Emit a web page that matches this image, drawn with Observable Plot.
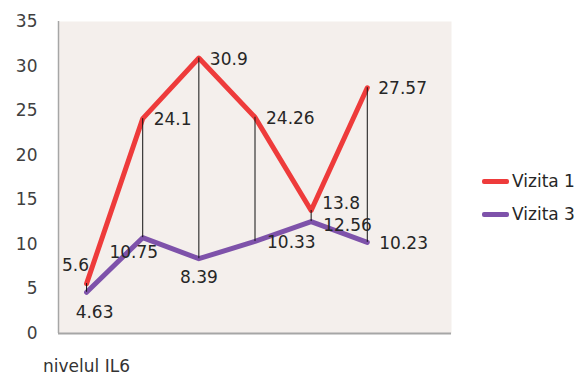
<!DOCTYPE html>
<html>
<head>
<meta charset="utf-8">
<script src="https://cdn.jsdelivr.net/npm/d3@7"></script>
<script src="https://cdn.jsdelivr.net/npm/@observablehq/plot@0.6"></script>
<style>
  html, body { margin: 0; padding: 0; background: #fff; overflow: hidden; }
  #wrap { position: relative; width: 583px; height: 376px; font-family: "DejaVu Sans", sans-serif; }
  #xlabel { position: absolute; left: 43px; top: 358px; font-size: 17px; color: #333; line-height: 17px; white-space: nowrap; }
  #legend { position: absolute; left: 482px; top: 169px; font-size: 17px; color: #262626; }
  .row { display: flex; align-items: center; height: 24px; margin-bottom: 9px; white-space: nowrap; }
  .sw { width: 27px; height: 5px; border-radius: 2px; margin-right: 3px; }
</style>
</head>
<body>
<div id="wrap">
  <div id="chart"></div>
  <div id="xlabel"></div>
  <div id="legend"></div>
</div>
<script>
const categories = [1, 2, 3, 4, 5, 6];
const vizita1 = [5.6, 24.1, 30.9, 24.26, 13.8, 27.57];
const vizita3 = [4.63, 10.75, 8.39, 10.33, 12.56, 10.23];
const yTicks = [0, 5, 10, 15, 20, 25, 30, 35];
const seriesNames = ["Vizita 1", "Vizita 3"];
const xAxisTitle = "nivelul IL6";
const colors = ["#ee3b3b", "#7e52aa"];

const rows1 = categories.map((c, i) => ({x: c, y: vizita1[i], i, label: String(vizita1[i])}));
const rows3 = categories.map((c, i) => ({x: c, y: vizita3[i], i, label: String(vizita3[i])}));
const hl = categories.map((c, i) => ({x: c, lo: vizita3[i], hi: vizita1[i]}));

const font = {fontSize: 17, fill: "#262626", fontFamily: "DejaVu Sans, sans-serif"};
const lbl = (rows, filter, opts) => Plot.text(rows, {x: "x", y: "y", text: "label", filter, ...font, ...opts});

const chart = Plot.plot({
  width: 583,
  height: 376,
  marginLeft: 58,
  marginRight: 132,
  marginTop: 21,
  marginBottom: 43,
  style: {fontFamily: "DejaVu Sans, sans-serif", fontSize: "17px", background: "transparent"},
  x: {domain: [0.5, 7.5], axis: null},
  y: {domain: [0, 35], ticks: yTicks, tickSize: 0, tickPadding: 21, label: null, tickFormat: d => String(d)},
  marks: [
    Plot.frame({fill: "#f4efec", stroke: null}),
    Plot.axisY({ticks: yTicks, tickSize: 0, tickPadding: 21, label: null, fontSize: 17, color: "#404040", tickFormat: d => String(d)}),
    Plot.ruleX([0.5], {stroke: "#a6a6a6", strokeWidth: 1.5}),
    Plot.ruleY([0], {stroke: "#a6a6a6", strokeWidth: 2}),
    Plot.line(rows1, {x: "x", y: "y", stroke: colors[0], strokeWidth: 5, strokeLinejoin: "round"}),
    Plot.line(rows3, {x: "x", y: "y", stroke: colors[1], strokeWidth: 5, strokeLinejoin: "round"}),
    Plot.ruleX(hl, {x: "x", y1: "lo", y2: "hi", stroke: "#111", strokeWidth: 1}),
    // Vizita 1 labels
    lbl(rows1, d => d.i === 0, {dx: -11, dy: -18, textAnchor: "middle"}),
    lbl(rows1, d => d.i === 4, {dx: 11, dy: -7, textAnchor: "start"}),
    lbl(rows1, d => d.i !== 0 && d.i !== 4, {dx: 11, dy: 1, textAnchor: "start"}),
    // Vizita 3 labels
    lbl(rows3, d => d.i === 0, {dx: 8, dy: 20, textAnchor: "middle"}),
    lbl(rows3, d => d.i === 1, {dx: -9, dy: 15, textAnchor: "middle"}),
    lbl(rows3, d => d.i === 2, {dx: 0, dy: 19, textAnchor: "middle"}),
    lbl(rows3, d => d.i === 4, {dx: 12, dy: 4, textAnchor: "start"}),
    lbl(rows3, d => d.i === 3 || d.i === 5, {dx: 12, dy: 1, textAnchor: "start"})
  ]
});
document.getElementById("chart").appendChild(chart);
document.getElementById("xlabel").textContent = xAxisTitle;

const legend = document.getElementById("legend");
seriesNames.forEach((name, k) => {
  const row = document.createElement("div");
  row.className = "row";
  const sw = document.createElement("div");
  sw.className = "sw";
  sw.style.background = colors[k];
  const t = document.createElement("span");
  t.textContent = name;
  row.appendChild(sw);
  row.appendChild(t);
  legend.appendChild(row);
});
</script>
</body>
</html>
